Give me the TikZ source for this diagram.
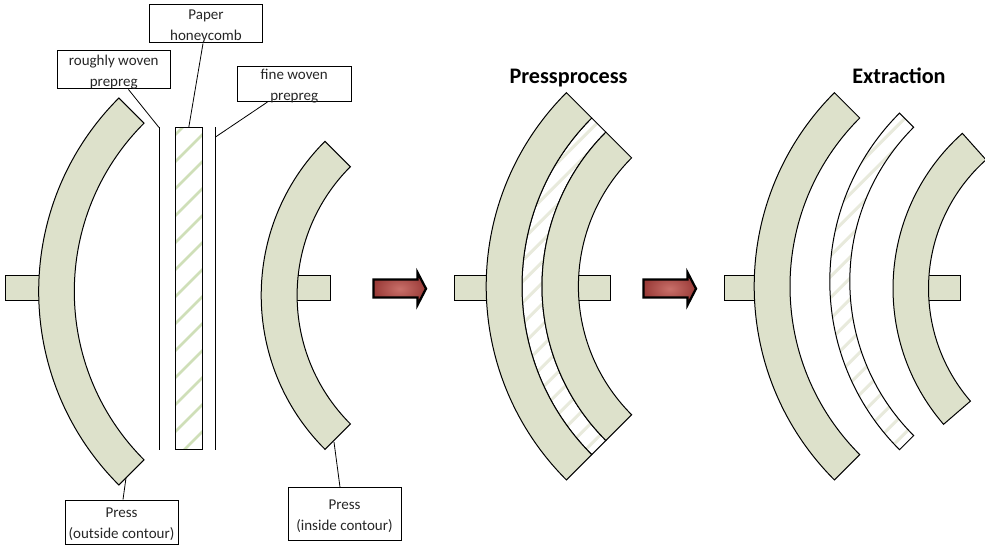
\documentclass[tikz,border=0pt]{standalone}
\usepackage{fontspec}
\setmainfont{Carlito}
\definecolor{pressfill}{HTML}{DDE1CB}
\definecolor{rectstripe}{HTML}{CFDFB8}
\definecolor{bandstripe}{HTML}{E8EADC}
\definecolor{inktext}{HTML}{262626}
\definecolor{arrowmid}{HTML}{C9706A}
\definecolor{arrowedge}{HTML}{9A3B38}
\tikzset{
  outline/.style={draw=black,line width=1pt,line join=miter},
  pressband/.style={outline,fill=pressfill},
  rodbox/.style={outline,fill=pressfill},
  foil/.style={draw=black,line width=1pt},
  leader/.style={draw=black,line width=0.8pt},
  labelbox/.style={draw=black,line width=1pt,fill=white,inner sep=0pt,text=inktext,font=\fontsize{15}{21}\selectfont},
  headline/.style={inner sep=0pt,anchor=base,text=black,font=\fontsize{22.2}{26}\selectfont\bfseries},
  bigarrow/.style={draw=black,line width=2.3pt,line join=miter,inner color=arrowmid,outer color=arrowedge}
}
% centre x, centre y (pixels down), outer R, inner R, start angle, end angle
\newcommand\pressarc[6]{%
  \path[pressband] ([shift={(#1,-#2)}]#5:#3pt) arc[start angle=#5,end angle=#6,radius=#3pt]
    -- ([shift={(#1,-#2)}]#6:#4pt) arc[start angle=#6,end angle=#5,radius=#4pt] -- cycle;}
\newcommand\stripedarc[4]{%
  \begin{scope}
    \clip ([shift={(#1,-#2)}]135:#3pt) arc[start angle=135,end angle=225,radius=#3pt]
      -- ([shift={(#1,-#2)}]225:#4pt) arc[start angle=225,end angle=135,radius=#4pt] -- cycle;
    \fill[white] (#1-300,-#2-200) rectangle (#1,-#2+200);
    \foreach \k in {-10,...,10}
      \draw[bandstripe,line width=3pt] (#1-300,-#2+\k*21-100) -- (#1,-#2+\k*21+200);
  \end{scope}
  \path[outline] ([shift={(#1,-#2)}]135:#3pt) arc[start angle=135,end angle=225,radius=#3pt]
      -- ([shift={(#1,-#2)}]225:#4pt) arc[start angle=225,end angle=135,radius=#4pt] -- cycle;}
\newcommand\redarrow[1]{%
  \begin{scope}[xshift=#1pt]
    \shade[bigarrow] (373.5,-279.5) -- (417.5,-279.5) -- (417.5,-272.5) -- (426,-288.7)
      -- (417.5,-305) -- (417.5,-297.5) -- (373.5,-297.5) -- cycle;
  \end{scope}}
\newcommand\twolines[2]{\raisebox{-6pt}[0pt][0pt]{\parbox[c]{112pt}{\centering\baselineskip=21pt\relax #1\\#2}}}
\begin{document}
\begin{tikzpicture}[x=1pt,y=1pt]
\useasboundingbox (0,0) rectangle (985,-545);

% ---- panel 1: parts apart
\path[rodbox] (5,-276) rectangle (60,-301);
\path[rodbox] (280,-276) rectangle (330,-301);
\pressarc{312.3}{291.5}{273.6}{238}{135}{225}
\pressarc{479}{295.3}{217.8}{181.9}{135}{225}

\coordinate (foilAtop) at (159,-127.5);
\coordinate (foilAbot) at (159,-449.5);
\coordinate (foilBtop) at (215,-127.5);
\coordinate (foilBbot) at (215,-449.5);
\draw[foil] (foilAtop) -- (foilAbot);
\draw[foil] (foilBtop) -- (foilBbot);
\coordinate (foilBtap) at (215.5,-137);

\begin{scope}
  \clip (175.5,-128) rectangle (202,-449.5);
  \foreach \k in {-2,...,12}
    \draw[rectstripe,line width=2.6pt] (170,-167-\k*27) -- (210,-127-\k*27);
\end{scope}
\node[outline,minimum width=26.5pt,minimum height=321.5pt,inner sep=0pt] (honeycomb) at (188.75,-288.75) {};

\node[labelbox,minimum width=113.5pt,minimum height=38.5pt] (lblrough) at (113.75,-69.75) {\twolines{roughly woven}{prepreg}};
\node[labelbox,minimum width=113pt,minimum height=38.5pt] (lblpaper) at (206,-23.75) {\twolines{Paper}{honeycomb}};
\node[labelbox,minimum width=113.5pt,minimum height=35pt] (lblfine) at (294.25,-84) {\twolines{fine woven}{prepreg}};
\node[labelbox,minimum width=113pt,minimum height=44pt] (lblout) at (121.5,-522) {\twolines{Press}{(outside contour)}};
\node[labelbox,minimum width=113pt,minimum height=52.8pt] (lblin) at (344.5,-514.1) {\twolines{Press}{(inside contour)}};

\coordinate (pressOutTap) at (126,-478);
\coordinate (pressInTap) at (334,-442);
\draw[leader] ([xshift=72pt]lblrough.south west) -- (foilAtop);
\draw[leader] ([xshift=54pt]lblpaper.south west) -- (honeycomb.north);
\draw[leader] ([xshift=30.5pt]lblfine.south west) -- (foilBtap);
\draw[leader] ([xshift=58.5pt]lblout.north west) -- (pressOutTap);
\draw[leader] ([xshift=52.5pt]lblin.north west) -- (pressInTap);

\redarrow{0}
\redarrow{270}

% ---- panel 2: pressed
\node[headline] (titlepress) at (568.5,-83.5) {Pressprocess};
\path[rodbox] (454.5,-276) rectangle (510,-301);
\path[rodbox] (560,-276) rectangle (610.7,-301);
\stripedarc{760}{286.3}{238}{218}
\pressarc{760}{286.3}{273.8}{238}{135}{225}
\pressarc{760}{286.3}{218}{181.6}{135}{225}

% ---- panel 3: extraction
\node[headline] (titleextract) at (899,-83.5) {Extraction};
\path[rodbox] (724.7,-276) rectangle (780,-301);
\path[rodbox] (910,-276) rectangle (960.5,-301);
\pressarc{1028}{286.3}{273.8}{238}{135}{225}
\stripedarc{1067.8}{281.4}{238}{218}
\pressarc{1101}{288.4}{208}{172.5}{131.8}{220.8}
\end{tikzpicture}
\end{document}
